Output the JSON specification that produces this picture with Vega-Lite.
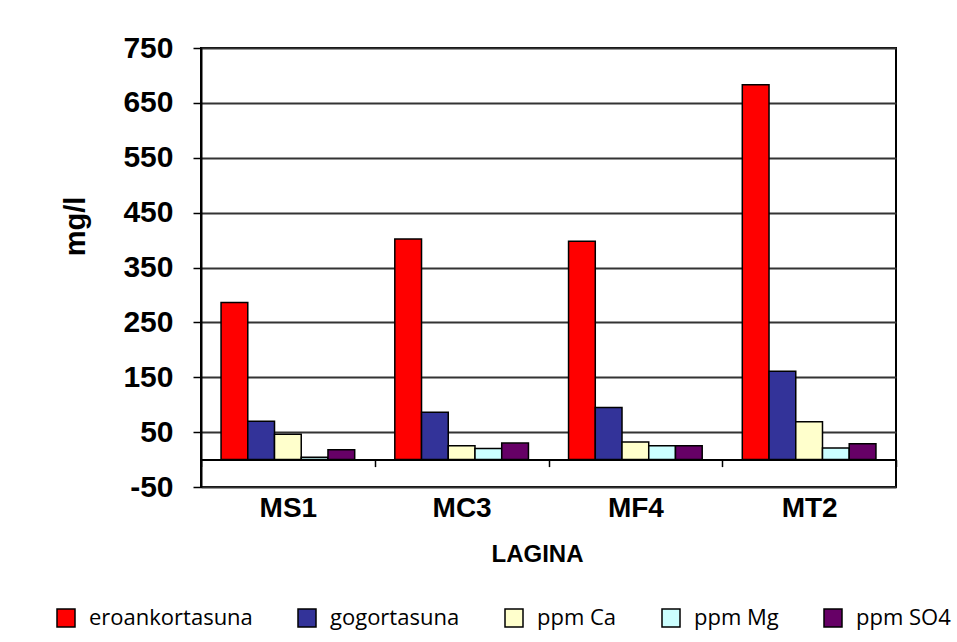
{
  "$schema": "https://vega.github.io/schema/vega-lite/v6.json",
  "autosize": "none",
  "width": 695,
  "height": 439,
  "padding": {"left": 201, "top": 48, "right": 61, "bottom": 155},
  "background": "white",
  "data": {
    "values": [
      {"lagina": "MS1", "serie": "eroankortasuna", "balioa": 286},
      {"lagina": "MS1", "serie": "gogortasuna", "balioa": 70},
      {"lagina": "MS1", "serie": "ppm Ca", "balioa": 46},
      {"lagina": "MS1", "serie": "ppm Mg", "balioa": 4},
      {"lagina": "MS1", "serie": "ppm SO4", "balioa": 18},
      {"lagina": "MC3", "serie": "eroankortasuna", "balioa": 402},
      {"lagina": "MC3", "serie": "gogortasuna", "balioa": 86},
      {"lagina": "MC3", "serie": "ppm Ca", "balioa": 25},
      {"lagina": "MC3", "serie": "ppm Mg", "balioa": 20},
      {"lagina": "MC3", "serie": "ppm SO4", "balioa": 30},
      {"lagina": "MF4", "serie": "eroankortasuna", "balioa": 398},
      {"lagina": "MF4", "serie": "gogortasuna", "balioa": 95},
      {"lagina": "MF4", "serie": "ppm Ca", "balioa": 32},
      {"lagina": "MF4", "serie": "ppm Mg", "balioa": 25},
      {"lagina": "MF4", "serie": "ppm SO4", "balioa": 25},
      {"lagina": "MT2", "serie": "eroankortasuna", "balioa": 683},
      {"lagina": "MT2", "serie": "gogortasuna", "balioa": 161},
      {"lagina": "MT2", "serie": "ppm Ca", "balioa": 69},
      {"lagina": "MT2", "serie": "ppm Mg", "balioa": 21},
      {"lagina": "MT2", "serie": "ppm SO4", "balioa": 29}
    ]
  },
  "mark": {"type": "bar", "stroke": "black", "strokeWidth": 1.5},
  "encoding": {
    "x": {
      "field": "lagina",
      "type": "nominal",
      "sort": ["MS1", "MC3", "MF4", "MT2"],
      "scale": {"paddingInner": 0, "paddingOuter": 0},
      "axis": {
        "title": "LAGINA",
        "titleFont": "Liberation Sans",
        "titleFontSize": 24,
        "titleFontWeight": "bold",
        "titleColor": "black",
        "titlePadding": 20,
        "titleX": 336,
        "labelFont": "Liberation Sans",
        "labelFontSize": 28,
        "labelFontWeight": "bold",
        "labelColor": "black",
        "labelAngle": 0,
        "labelPadding": 28,
        "tickBand": "extent",
        "tickSize": 7,
        "tickColor": "black",
        "tickWidth": 1.5,
        "domainColor": "black",
        "domainWidth": 2,
        "offset": -27.4,
        "grid": false
      }
    },
    "xOffset": {
      "field": "serie",
      "type": "nominal",
      "sort": ["eroankortasuna", "gogortasuna", "ppm Ca", "ppm Mg", "ppm SO4"],
      "scale": {"paddingInner": 0, "paddingOuter": 0.75}
    },
    "y": {
      "field": "balioa",
      "type": "quantitative",
      "scale": {"domain": [-50, 750], "nice": false, "zero": false},
      "axis": {
        "title": "mg/l",
        "titleFont": "Liberation Sans",
        "titleFontSize": 29,
        "titleFontWeight": "bold",
        "titleColor": "black",
        "titlePadding": 32,
        "titleY": 178,
        "values": [-50, 50, 150, 250, 350, 450, 550, 650, 750],
        "labelExpr": "replace(datum.label, '\u2212', '-')",
        "labelFont": "Liberation Sans",
        "labelFontSize": 30,
        "labelFontWeight": "bold",
        "labelColor": "black",
        "labelPadding": 20,
        "tickSize": 8,
        "tickColor": "black",
        "tickWidth": 1.5,
        "domainColor": "black",
        "domainWidth": 2,
        "grid": true,
        "gridColor": "#333333",
        "gridWidth": 1.8,
        "gridOpacity": 1
      }
    },
    "color": {
      "field": "serie",
      "type": "nominal",
      "sort": ["eroankortasuna", "gogortasuna", "ppm Ca", "ppm Mg", "ppm SO4"],
      "scale": {
        "domain": ["eroankortasuna", "gogortasuna", "ppm Ca", "ppm Mg", "ppm SO4"],
        "range": ["#FF0000", "#333399", "#FFFFCC", "#CCFFFF", "#660066"]
      },
      "legend": {
        "title": null,
        "orient": "none",
        "direction": "horizontal",
        "columns": 5,
        "legendX": -146,
        "legendY": 559,
        "symbolType": "square",
        "symbolSize": 324,
        "symbolStrokeColor": "black",
        "symbolStrokeWidth": 1.5,
        "symbolOpacity": 1,
        "labelFont": "Open Sans",
        "labelFontSize": 22,
        "labelColor": "black",
        "labelOffset": 12,
        "labelLimit": 300,
        "columnPadding": 42,
        "padding": 0
      }
    }
  },
  "config": {
    "view": {"stroke": "black", "strokeWidth": 2}
  }
}
